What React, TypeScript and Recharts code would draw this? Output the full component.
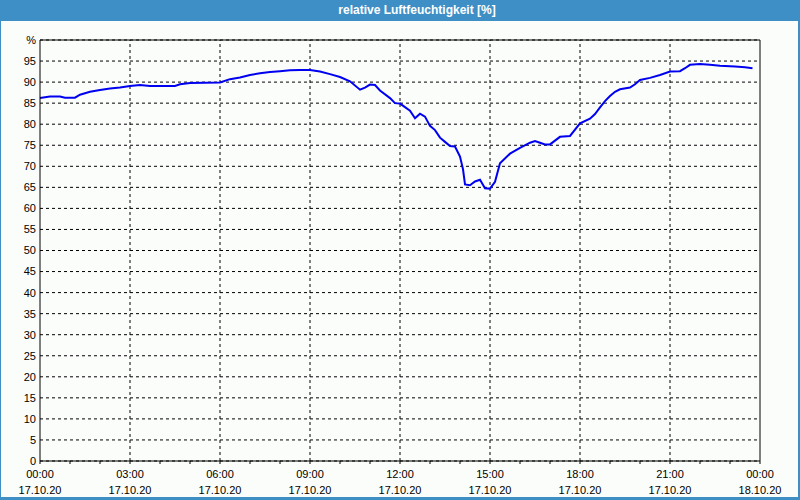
import {
  CartesianGrid,
  Line,
  LineChart,
  ReferenceLine,
  XAxis,
  YAxis,
} from "recharts";

// hours since 17.10.20 00:00
const hours = [
  0, 0.333, 0.667, 0.833, 1.167, 1.333, 1.667, 2, 2.333, 2.667, 3, 3.333,
  3.667, 4.5, 4.667, 5, 6, 6.333, 6.667, 7, 7.333, 7.667, 8, 8.333, 8.667, 9,
  9.333, 9.667, 10, 10.333, 10.667, 10.833, 11, 11.167, 11.333, 11.667,
  11.833, 12, 12.333, 12.5, 12.667, 12.833, 13, 13.167, 13.333, 13.5, 13.667,
  13.833, 14, 14.1, 14.167, 14.333, 14.5, 14.667, 14.833, 15, 15.167, 15.333,
  15.667, 16, 16.333, 16.5, 16.667, 16.833, 17, 17.333, 17.667, 18, 18.333,
  18.5, 18.667, 18.833, 19, 19.167, 19.333, 19.667, 19.833, 20, 20.333,
  20.667, 21, 21.333, 21.5, 21.667, 22, 22.333, 22.667, 23.167, 23.5, 23.75,
];

const humidity = [
  86.2, 86.6, 86.6, 86.3, 86.3, 87.0, 87.7, 88.1, 88.5, 88.7, 89.1, 89.3,
  89.1, 89.1, 89.5, 89.8, 89.9, 90.7, 91.1, 91.7, 92.1, 92.4, 92.6, 92.8,
  92.9, 92.9, 92.5, 91.9, 91.2, 90.2, 88.2, 88.7, 89.4, 89.3, 88.0, 86.2,
  85.0, 84.9, 83.2, 81.4, 82.5, 81.8, 79.6, 78.6, 76.8, 75.8, 74.8, 74.7,
  72.3, 69.3, 65.7, 65.5, 66.4, 66.8, 64.8, 64.7, 66.3, 70.7, 73.0, 74.4,
  75.6, 76.0, 75.6, 75.2, 75.2, 77.0, 77.2, 80.2, 81.3, 82.4, 84.0, 85.5,
  86.7, 87.7, 88.3, 88.7, 89.5, 90.5, 91.0, 91.7, 92.5, 92.6, 93.3, 94.1,
  94.3, 94.1, 93.9, 93.7, 93.5, 93.3,
];

const hourTicks = Array.from({ length: 25 }, (_, i) => i);
const timeLabels: Record<number, [string, string]> = {
  0: ["00:00", "17.10.20"],
  3: ["03:00", "17.10.20"],
  6: ["06:00", "17.10.20"],
  9: ["09:00", "17.10.20"],
  12: ["12:00", "17.10.20"],
  15: ["15:00", "17.10.20"],
  18: ["18:00", "17.10.20"],
  21: ["21:00", "17.10.20"],
  24: ["00:00", "18.10.20"],
};
const gridHours = [3, 6, 9, 12, 15, 18, 21];
const yTicks = Array.from({ length: 21 }, (_, i) => i * 5);

const data = hours.map((h, i) => ({ h, rh: humidity[i] }));

const font = "Tahoma, 'Liberation Sans', sans-serif";
const blue = "#3d8fc6";

function TimeTick(props: any) {
  const { x, y, payload } = props;
  const lbl = timeLabels[payload.value];
  if (!lbl) return null;
  return (
    <g>
      <text x={x} y={y} dy={12} textAnchor="middle" fill="#000" fontSize={11} fontFamily={font}>
        {lbl[0]}
      </text>
      <text x={x} y={y} dy={28} textAnchor="middle" fill="#000" fontSize={11} fontFamily={font}>
        {lbl[1]}
      </text>
    </g>
  );
}

export default function App() {
  return (
    <div
      style={{
        position: "fixed",
        top: 0,
        left: 0,
        width: 800,
        height: 500,
        background: "#fbfdfb",
        fontFamily: font,
      }}
    >
      <LineChart
        width={800}
        height={500}
        data={data}
        margin={{ top: 40, right: 40, left: 0, bottom: 0 }}
      >
        <CartesianGrid
          vertical={false}
          stroke="#000"
          strokeDasharray="3 3"
        />
        {gridHours.map((g) => (
          <ReferenceLine key={g} x={g} stroke="#000" strokeDasharray="3 3" />
        ))}
        <ReferenceLine y={100} stroke="#000" />
        <ReferenceLine x={24} stroke="#000" />
        <XAxis
          dataKey="h"
          type="number"
          domain={[0, 24]}
          ticks={hourTicks}
          interval={0}
          height={39}
          tickSize={3}
          tickMargin={2}
          axisLine={{ stroke: "#000" }}
          tickLine={{ stroke: "#000" }}
          tick={<TimeTick />}
        />
        <YAxis
          type="number"
          domain={[0, 100]}
          ticks={yTicks}
          interval={0}
          width={40}
          tickSize={2}
          tickMargin={2}
          tickLine={false}
          axisLine={{ stroke: "#000" }}
          tick={{ fill: "#000", fontSize: 11, fontFamily: font }}
          tickFormatter={(v) => (v === 100 ? "%" : String(v))}
        />
        <Line
          type="linear"
          dataKey="rh"
          stroke="#0000f0"
          strokeWidth={2}
          dot={false}
          isAnimationActive={false}
        />
      </LineChart>
      <div
        style={{
          position: "absolute",
          top: 0,
          left: 0,
          width: 800,
          height: 21,
          paddingLeft: 34,
          boxSizing: "border-box",
          background: blue,
          color: "#fff",
          fontWeight: "bold",
          fontSize: 12,
          lineHeight: "21px",
          textAlign: "center",
        }}
      >
        relative Luftfeuchtigkeit [%]
      </div>
      <div
        style={{
          position: "absolute",
          inset: 0,
          borderLeft: `1px solid ${blue}`,
          borderRight: `2px solid ${blue}`,
          borderBottom: `3px solid ${blue}`,
          boxSizing: "border-box",
          pointerEvents: "none",
        }}
      />
    </div>
  );
}
